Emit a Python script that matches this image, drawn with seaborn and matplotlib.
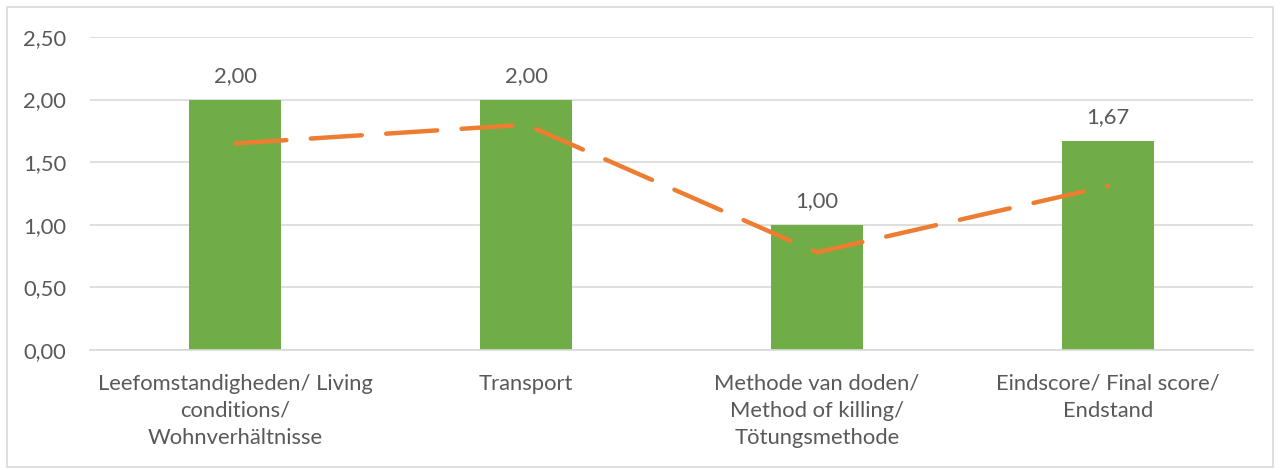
import matplotlib.pyplot as plt
import numpy as np
import seaborn as sns
from matplotlib.patches import Rectangle

# data
categories = [
    "Leefomstandigheden/ Living\nconditions/\nWohnverhältnisse",
    "Transport",
    "Methode van doden/\nMethod of killing/\nTötungsmethode",
    "Eindscore/ Final score/\nEndstand",
]
bar_values = [2.00, 2.00, 1.00, 1.67]
line_values = [1.65, 1.80, 0.78, 1.31]
y_ticks = [0.0, 0.5, 1.0, 1.5, 2.0, 2.5]

sns.set_theme(style="white")
plt.rcParams["font.family"] = ["Lato", "DejaVu Sans"]

green = "#70AD47"
orange = "#ED7D31"
text_col = "#595959"
fs = 15.8

fig = plt.figure(figsize=(12.8, 4.7), dpi=100)
ax = fig.add_axes([0.0703, 0.2553, 0.9087, 0.666])

sns.barplot(x=categories, y=bar_values, color=green, width=0.316,
            saturation=1, ax=ax, zorder=2, edgecolor="none")

xpos = np.arange(len(categories))
sns.lineplot(x=xpos, y=line_values, color=orange, lw=3.2, ax=ax,
             dashes=False, zorder=3)
ax.lines[-1].set_dashes((11.5, 5.5))
ax.lines[-1].set_dash_capstyle("round")

# value labels
for i, v in enumerate(bar_values):
    ax.annotate(f"{v:.2f}".replace(".", ","), (i, v), xytext=(0, 10),
                textcoords="offset points", ha="center", va="bottom",
                fontsize=fs, color=text_col)

ax.set_ylim(0, 2.5)
ax.set_xlim(-0.5, len(categories) - 0.5)
ax.set_yticks(y_ticks)
ax.set_yticklabels([f"{t:.2f}".replace(".", ",") for t in y_ticks],
                   fontsize=fs, color=text_col)
ax.tick_params(axis="x", labelsize=fs, labelcolor=text_col, length=0, pad=17)
ax.tick_params(axis="y", length=0, pad=17)
for lbl in ax.get_xticklabels():
    lbl.set_linespacing(1.45)

ax.yaxis.grid(True, color="#D9D9D9", lw=1.2, zorder=0)
ax.set_axisbelow(True)
for s in ["top", "right", "left"]:
    ax.spines[s].set_visible(False)
ax.spines["bottom"].set_color("#D9D9D9")
ax.spines["bottom"].set_linewidth(1.2)
ax.set_xlabel("")
ax.set_ylabel("")

# chart border
fig.patches.append(Rectangle((7 / 1280, 3 / 470), 1266 / 1280, 460 / 470,
                             transform=fig.transFigure, fill=False,
                             edgecolor="#D9D9D9", lw=1.2))

fig.savefig("out.png", dpi=100)
